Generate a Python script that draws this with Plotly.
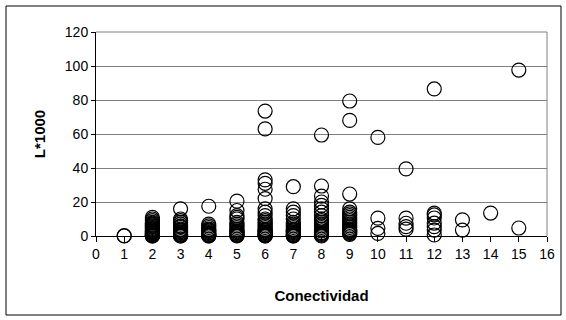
import plotly.graph_objects as go

# Data (Conectividad vs L*1000)
x_vals = {
    1: [0, 0.2],
    2: [0, 0.1, 0.2, 0.4, 0.5, 0.8, 1, 1.3, 1.5, 2, 2.3, 2.5, 3, 3.5, 4, 4.5, 5, 5.5, 6, 6.5, 7, 7.5, 8, 9, 10, 11],
    3: [0, 0.1, 0.3, 0.6, 0.8, 1, 1.5, 2, 2.5, 3, 3.5, 4, 5, 5.5, 6, 7, 8, 9, 10, 16],
    4: [0, 0.1, 0.3, 0.6, 0.8, 1, 1.5, 2, 2.5, 3, 3.5, 4, 5, 6, 7, 17.5],
    5: [0, 0.3, 0.5, 1, 1.5, 2, 2.5, 3, 4, 5, 6, 7, 8, 10, 11, 12, 15, 20.5],
    6: [0, 0.1, 0.3, 0.6, 1, 1.5, 2, 2.5, 3, 3.5, 4, 5, 6, 7, 8, 9, 10, 12, 14, 16, 22, 27.5, 31, 33, 63, 73.5],
    7: [0, 0.1, 0.3, 0.6, 1, 1.5, 2, 2.5, 3, 3.5, 4, 5, 6, 7, 8, 10, 12, 14, 16, 29],
    8: [0, 0.5, 1, 1.5, 2, 3, 4, 5, 6, 7, 8, 9, 10, 12, 14, 16, 18, 20, 23.5, 29.4, 59.4],
    9: [1, 1.5, 2, 2.5, 3, 3.5, 4, 5, 6, 7, 8, 9, 10, 11, 12, 13, 14, 16, 24.7, 68, 79.4],
    10: [1.5, 4.5, 10.5, 58],
    11: [4, 5.5, 7.5, 10.5, 39.5],
    12: [0.6, 3.5, 5.5, 7.6, 10.6, 12.4, 13.5, 86.5],
    13: [3.5, 9.5],
    14: [13.5],
    15: [4.7, 97.6],
}

conectividad = [k for k, vs in x_vals.items() for _ in vs]
l_1000 = [v for k, vs in x_vals.items() for v in vs]

x_ticks = list(range(0, 17))
y_ticks = [0, 20, 40, 60, 80, 100, 120]

fig = go.Figure()
fig.add_trace(go.Scatter(
    x=conectividad, y=l_1000, mode="markers",
    marker=dict(symbol="circle", size=14, color="rgba(0,0,0,0)",
                line=dict(color="black", width=1.2)),
    cliponaxis=False, showlegend=False,
))

font_family = "Liberation Sans, Arial, sans-serif"
fig.update_layout(
    width=566, height=320,
    margin=dict(l=96, r=19, t=32, b=84),
    paper_bgcolor="white", plot_bgcolor="white",
    font=dict(family=font_family, size=14, color="black"),
    xaxis=dict(range=[0, 16], tickvals=x_ticks, ticks="outside", ticklen=5,
               tickcolor="black", showline=True, linecolor="black", linewidth=1,
               showgrid=False, zeroline=False,
               tickfont=dict(size=14),
               title=dict(text="<b>Conectividad</b>", font=dict(size=15), standoff=29)),
    yaxis=dict(range=[0, 120], tickvals=y_ticks, ticks="outside", ticklen=4,
               tickcolor="black", showline=True, linecolor="black", linewidth=1,
               showgrid=True, gridcolor="#808080", gridwidth=1, zeroline=False,
               tickfont=dict(size=14),
               title=dict(text="<b>L*1000</b>", font=dict(size=15), standoff=15)),
    shapes=[
        dict(type="line", xref="paper", yref="paper", x0=1, x1=1, y0=0, y1=1,
             line=dict(color="#808080", width=1), layer="below"),
        dict(type="line", xref="paper", yref="paper", x0=0, x1=1, y0=1, y1=1,
             line=dict(color="#808080", width=1), layer="below"),
        dict(type="rect", xref="paper", yref="paper",
             x0=(6 - 96) / 451, x1=(561 - 96) / 451,
             y0=(236 - 315) / 204, y1=(236 - 6) / 204,
             line=dict(color="black", width=1), fillcolor="rgba(0,0,0,0)"),
    ],
)

fig.write_html("out.html")
